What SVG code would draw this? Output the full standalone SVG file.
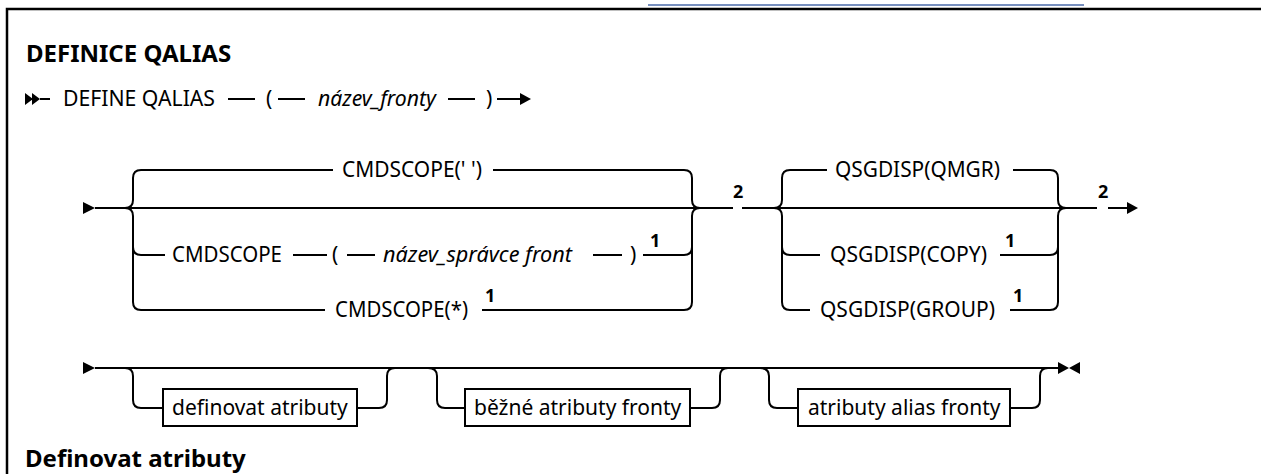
<svg xmlns="http://www.w3.org/2000/svg" width="1261" height="474" viewBox="0 0 1261 474">
<style>
.t{font-family:"Noto Sans","Liberation Sans",sans-serif;font-size:21px;fill:#000}
.i{font-style:italic}
.h{font-weight:bold;font-size:24px}
.n{font-weight:bold;font-size:18px}
.c{fill:none;stroke:#000;stroke-width:2}
.a{fill:#000}
.b{fill:#fff;stroke:#000;stroke-width:2}
</style>
<rect width="1261" height="474" fill="#fff"/>
<line x1="648" y1="5" x2="1084" y2="5" stroke="#4a6aa8" stroke-width="1.5"/>
<path d="M7,474 V9 H1261" fill="none" stroke="#000" stroke-width="2.5"/>
<g id="title"><text class="t h" x="26" y="62">DEFINICE QALIAS</text></g>
<g id="heading"><text class="t h" x="25" y="467">Definovat atributy</text></g>
<g id="connectors">
<path class="a" d="M25,93 L33,99 L25,105Z M32,93 L40,99 L32,105Z"/>
<path class="c" d="M40,99 H50 M228,99 H255 M278,99 H305 M448,99 H475 M497,99 H521"/>
<path class="a" d="M520,93 L531,99 L520,105Z"/>
<path class="a" d="M83,202 L95,208 L83,214Z"/>
<path class="c" d="M95,208 H733 M742,208 H1097 M1108,208 H1128"/>
<path class="a" d="M1127,202 L1138,208 L1127,214Z"/>
<path class="c" d="M125,208 Q133,208 133,200 V178 Q133,170 141,170 H333 M125,208 Q133,208 133,216 V302 Q133,310 141,310 H325 M133,247 Q133,255 141,255 H165"/>
<path class="c" d="M493,170 H684 Q692,170 692,178 V200 Q692,208 700,208 M482,310 H684 Q692,310 692,302 V216 Q692,208 700,208 M643,255 H684 Q692,255 692,247"/>
<path class="c" d="M293,255 H327 M347,255 H375 M593,255 H622"/>
<path class="c" d="M774,208 Q782,208 782,200 V178 Q782,170 790,170 H827 M774,208 Q782,208 782,216 V302 Q782,310 790,310 H810 M782,247 Q782,255 790,255 H820"/>
<path class="c" d="M1013,170 H1050 Q1058,170 1058,178 V200 Q1058,208 1066,208 M1010,310 H1050 Q1058,310 1058,302 V216 Q1058,208 1066,208 M1000,255 H1050 Q1058,255 1058,247"/>
<path class="a" d="M83,362 L95,368 L83,374Z"/>
<path class="c" d="M95,368 H1058"/>
<path class="c" d="M125,368 Q133,368 133,376 V400 Q133,408 141,408 H163 M357,408 H379 Q387,408 387,400 V376 Q387,368 395,368"/>
<path class="c" d="M428,368 Q437,368 437,376 V400 Q437,408 445,408 H465 M690,408 H712 Q720,408 720,400 V376 Q720,368 728,368"/>
<path class="c" d="M760,368 Q769,368 769,376 V400 Q769,408 777,408 H798 M1010,408 H1032 Q1040,408 1040,400 V376 Q1040,368 1048,368"/>
<path class="a" d="M1058,362 L1069,368 L1058,374Z M1080,362 L1069,368 L1080,374Z"/>
</g>
<g id="define-qalias"><text class="t" x="63" y="106" textLength="152" lengthAdjust="spacingAndGlyphs">DEFINE QALIAS</text></g>
<g id="lparen1"><text class="t" x="266" y="106">(</text></g>
<g id="nazev-fronty"><text class="t i" x="318" y="106" textLength="118" lengthAdjust="spacingAndGlyphs">název_fronty</text></g>
<g id="rparen1"><text class="t" x="486" y="106">)</text></g>
<g id="cmdscope-blank"><text class="t" x="342" y="177" textLength="140" lengthAdjust="spacingAndGlyphs">CMDSCOPE(' ')</text></g>
<g id="cmdscope-qmgr">
<text class="t" x="172" y="262" textLength="110" lengthAdjust="spacingAndGlyphs">CMDSCOPE</text>
<text class="t" x="332" y="262">(</text>
<text class="t i" x="383" y="262" textLength="189" lengthAdjust="spacingAndGlyphs">název_správce front</text>
<text class="t" x="630" y="262">)</text>
<text class="t n" x="650" y="247">1</text>
</g>
<g id="cmdscope-all">
<text class="t" x="335" y="317" textLength="133" lengthAdjust="spacingAndGlyphs">CMDSCOPE(*)</text>
<text class="t n" x="485" y="302">1</text>
</g>
<g id="note2a"><text class="t n" x="733" y="198">2</text></g>
<g id="qsgdisp-qmgr"><text class="t" x="835" y="177" textLength="165" lengthAdjust="spacingAndGlyphs">QSGDISP(QMGR)</text></g>
<g id="qsgdisp-copy">
<text class="t" x="830" y="262" textLength="157" lengthAdjust="spacingAndGlyphs">QSGDISP(COPY)</text>
<text class="t n" x="1005" y="247">1</text>
</g>
<g id="qsgdisp-group">
<text class="t" x="820" y="317" textLength="175" lengthAdjust="spacingAndGlyphs">QSGDISP(GROUP)</text>
<text class="t n" x="1013" y="302">1</text>
</g>
<g id="note2b"><text class="t n" x="1098" y="198">2</text></g>
<g id="box-define"><rect class="b" x="163" y="389" width="194" height="37"/><text class="t" x="172" y="415">definovat atributy</text></g>
<g id="box-common"><rect class="b" x="465" y="389" width="225" height="37"/><text class="t" x="474" y="415">běžné atributy fronty</text></g>
<g id="box-alias"><rect class="b" x="798" y="389" width="212" height="37"/><text class="t" x="808" y="415">atributy alias fronty</text></g>
</svg>
